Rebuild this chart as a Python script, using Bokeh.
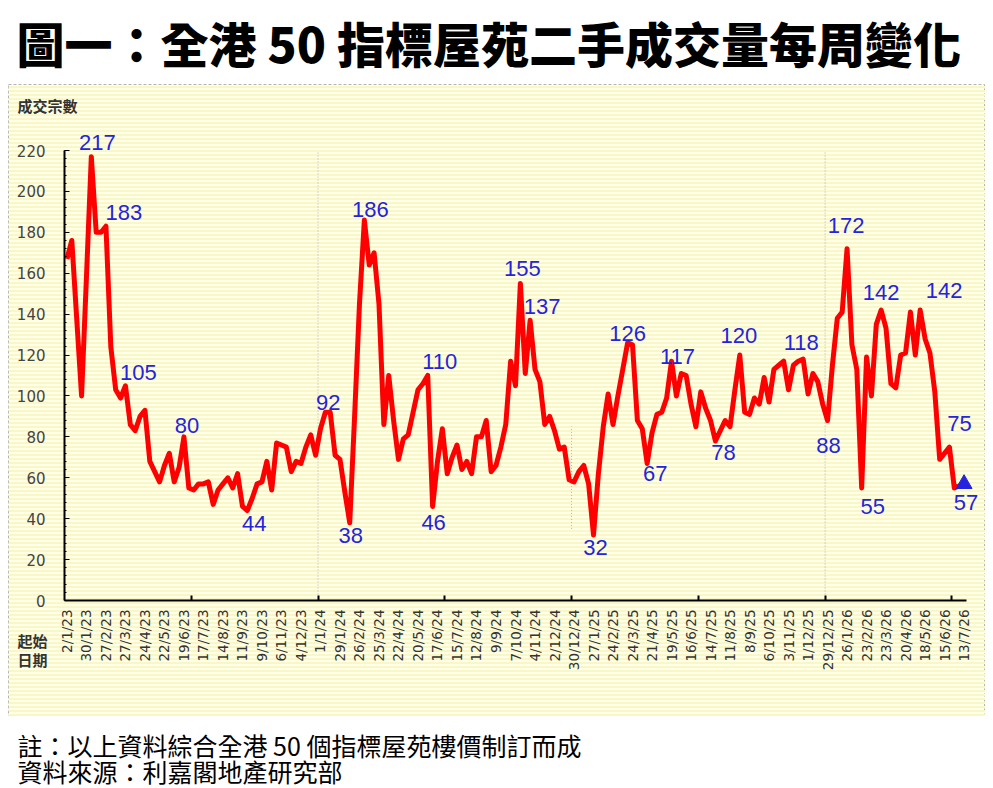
import math
from bokeh.plotting import figure
from bokeh.models import (Range1d, FixedTicker, ColumnDataSource, LabelSet, Label, Spacer,
                          BoxAnnotation)
from bokeh.layouts import column, row
from bokeh.embed import file_html
from bokeh.resources import INLINE
from bokeh.core.properties import value

# ---------------- data ----------------
title_text = "圖一：全港 50 指標屋苑二手成交量每周變化"
y_axis_title = "成交宗數"
x_axis_title = ["起始", "日期"]
notes = ["註：以上資料綜合全港 50 個指標屋苑樓價制訂而成", "資料來源：利嘉閣地產研究部"]

tick_labels = [
    "2/1/23", "30/1/23", "27/2/23", "27/3/23", "24/4/23", "22/5/23", "19/6/23",
    "17/7/23", "14/8/23", "11/9/23", "9/10/23", "6/11/23", "4/12/23", "1/1/24",
    "29/1/24", "26/2/24", "25/3/24", "22/4/24", "20/5/24", "17/6/24", "15/7/24",
    "12/8/24", "9/9/24", "7/10/24", "4/11/24", "2/12/24", "30/12/24", "27/1/25",
    "24/2/25", "24/3/25", "21/4/25", "19/5/25", "16/6/25", "14/7/25", "11/8/25",
    "8/9/25", "6/10/25", "3/11/25", "1/12/25", "29/12/25", "26/1/26", "23/2/26",
    "23/3/26", "20/4/26", "18/5/26", "15/6/26", "13/7/26",
]

weekly_volume = [
    167, 176, 138, 100, 158, 217, 180, 180, 183, 124,
    103, 99, 105, 86, 83, 90, 93, 68, 63, 58,
    66, 72, 58, 65, 80, 55, 54, 57, 57, 58,
    47, 54, 57, 60, 55, 62, 46, 44, 50, 57,
    58, 68, 54, 77, 76, 75, 63, 68, 67, 75,
    81, 71, 84, 92, 92, 71, 69, 53, 38, 90,
    145, 186, 164, 170, 145, 86, 110, 88, 69, 79,
    81, 92, 103, 106, 110, 46, 68, 84, 62, 70,
    76, 64, 68, 62, 80, 80, 88, 63, 66, 75,
    86, 117, 105, 155, 111, 137, 113, 107, 86, 90,
    83, 74, 75, 59, 58, 63, 66, 57, 32, 62,
    85, 101, 86, 100, 113, 126, 125, 88, 84, 67,
    82, 91, 92, 99, 117, 100, 111, 110, 96, 85,
    102, 94, 88, 78, 83, 88, 85, 103, 120, 92,
    91, 99, 96, 109, 97, 113, 115, 117, 103, 115,
    117, 118, 101, 111, 107, 96, 88, 115, 138, 141,
    172, 125, 113, 55, 119, 100, 135, 142, 133, 106,
    104, 120, 121, 141, 120, 142, 128, 121, 102, 69,
    72, 75, 55, 56, 57,
]

# weeks whose value is annotated on the chart
labelled_weeks = [5, 8, 12, 24, 37, 53, 58, 61, 74, 75, 93, 95, 108, 115, 119,
                  124, 133, 138, 151, 156, 160, 163, 167, 175, 181, 184]
# first week of each new year (vertical separators)
year_start_weeks = [52, 104, 156]

# ---------------- layout / style (not data) ----------------
label_dx = [6, 18, 13, 3, 7, 3, 1, 6, 12, 1, 2, 12, 2, 0, 8,
            6, 8, -1, -2, 1, -1, 11, 0, 24, 10, 2]
label_dy = [14, 14, 13, 11, -13, 10, -13, 11, 14, -16, 15, 14, -12, 9, -10,
            5, -12, 20, 17, -25, 23, -18, 18, 20, 24, -19]

PANEL = "#FFFFEC"
STRIPE = "#F9F7C4"
RED = "#FF0000"
BLUE = "#2424DC"
CJK = "Noto Sans CJK TC"
CJK_HEAVY = "'Noto Sans CJK TC Black', 'Noto Sans CJK TC'"

n = len(weekly_volume)
weeks = list(range(n))
Y_MAX = 220

# panel geometry (pixels): plot area margins inside the 977x632 panel
PW, PH = 977, 632
ML, MR, MT, MB = 56, 19, 66, 116
px_x = (PW - ML - MR) / n            # pixels per week
px_y = (PH - MT - MB) / Y_MAX        # pixels per unit
x_lo = -0.5 - ML / px_x
x_hi = n - 0.5 + MR / px_x
y_lo = -MB / px_y
y_hi = Y_MAX + MT / px_y


def xpx(px):  # panel pixel -> data x
    return x_lo + px / px_x


def ypx(py):  # panel pixel from top -> data y
    return y_hi - py / px_y


# ---------------- title figure ----------------
tf = figure(width=993, height=84, x_range=Range1d(0, 993), y_range=Range1d(0, 84),
            output_backend="svg", toolbar_location=None, min_border=0)
tf.axis.visible = False
tf.grid.visible = False
tf.outline_line_color = None
tf.background_fill_color = "white"
tf.border_fill_color = "white"
tf.text(x=[16], y=[43], text=[title_text], text_font=value(CJK_HEAVY), text_font_style="bold",
        text_font_size="48px", text_baseline="middle", text_align="left", text_color="black")

# ---------------- chart figure (frame = whole panel) ----------------
p = figure(width=PW, height=PH, x_range=Range1d(x_lo, x_hi), y_range=Range1d(y_lo, y_hi),
           output_backend="svg", toolbar_location=None, min_border=0)
p.background_fill_color = PANEL
p.border_fill_color = PANEL
p.outline_line_color = "#b4b4b4"
p.outline_line_dash = "3 2"
p.outline_line_width = 1
p.grid.visible = False

# horizontal stripes of the panel background
p.add_layout(BoxAnnotation(level="underlay", fill_alpha=0, line_alpha=0,
                           hatch_pattern="horizontal_line", hatch_color=STRIPE,
                           hatch_scale=4, hatch_weight=2))

# year separators
yb = [w - 0.5 for w in year_start_weeks]
p.segment(x0=[yb[0], yb[2]], y0=[0, 0], x1=[yb[0], yb[2]], y1=[Y_MAX, Y_MAX],
          line_color="#b0b0b0", line_width=1, line_dash="1 2")
p.segment(x0=[yb[1]], y0=[35], x1=[yb[1]], y1=[85],
          line_color="#b0b0b0", line_width=1, line_dash="1 2")

src = ColumnDataSource(dict(x=weeks, y=weekly_volume))
p.line("x", "y", source=src, line_color=RED, line_width=5, line_join="round")
p.scatter(x=[weeks[-1]], y=[weekly_volume[-1]], marker="triangle", size=16,
          fill_color=BLUE, line_color=BLUE)

lab = ColumnDataSource(dict(
    x=labelled_weeks,
    y=[weekly_volume[i] for i in labelled_weeks],
    t=[str(weekly_volume[i]) for i in labelled_weeks],
    dx=label_dx, dy=label_dy,
))
p.add_layout(LabelSet(x="x", y="y", text="t", source=lab, x_offset="dx", y_offset="dy",
                      text_font=value("Liberation Sans"), text_font_size="22px",
                      text_color=BLUE, text_align="center", text_baseline="middle"))

# x axis, drawn at y = 0 inside the panel
xa = p.xaxis[0]
xa.fixed_location = 0
xa.bounds = (-0.5, n - 0.5)
xa.ticker = FixedTicker(ticks=list(range(0, n, 4)),
                        minor_ticks=[26 * k - 0.5 for k in range(1, 8)])
xa.major_label_overrides = {i: tick_labels[i // 4] for i in range(0, n, 4)}
xa.major_label_orientation = math.pi / 2
xa.major_tick_line_color = None
xa.major_tick_in = 0
xa.major_tick_out = 0
xa.minor_tick_in = 5
xa.minor_tick_out = 0
xa.minor_tick_line_color = "black"
xa.minor_tick_line_width = 2
xa.axis_line_width = 2
xa.axis_line_color = "black"
xa.major_label_standoff = 9
xa.major_label_text_font = "DejaVu Sans"
xa.major_label_text_font_size = "13.5px"
xa.major_label_text_color = "#333333"

# y axis, drawn at x = -0.5 inside the panel
ya = p.yaxis[0]
ya.fixed_location = -0.5
ya.bounds = (0, Y_MAX)
ya.ticker = FixedTicker(ticks=list(range(0, Y_MAX + 1, 20)),
                        minor_ticks=list(range(0, Y_MAX + 1, 4)))
ya.major_tick_in = 5
ya.major_tick_out = 0
ya.minor_tick_in = 2
ya.minor_tick_out = 0
ya.major_tick_line_color = "black"
ya.minor_tick_line_color = "black"
ya.axis_line_width = 2
ya.axis_line_color = "black"
ya.major_label_standoff = 19
ya.major_label_text_font = "DejaVu Sans"
ya.major_label_text_font_size = "15px"
ya.major_label_text_color = "#444444"

# axis titles in the panel margins
p.add_layout(Label(x=xpx(9), y=ypx(21), text=y_axis_title, text_font=CJK, text_font_style="bold",
                   text_font_size="15px", text_color="#333333", text_baseline="middle",
                   text_align="left"))
p.add_layout(Label(x=xpx(9), y=ypx(556), text=x_axis_title[0], text_font=CJK, text_font_style="bold",
                   text_font_size="15px", text_color="#333333", text_baseline="middle",
                   text_align="left"))
p.add_layout(Label(x=xpx(9), y=ypx(575), text=x_axis_title[1], text_font=CJK, text_font_style="bold",
                   text_font_size="15px", text_color="#333333", text_baseline="middle",
                   text_align="left"))

# ---------------- footer figure ----------------
ff = figure(width=993, height=72, x_range=Range1d(0, 993), y_range=Range1d(0, 72),
            output_backend="svg", toolbar_location=None, min_border=0)
ff.axis.visible = False
ff.grid.visible = False
ff.outline_line_color = None
ff.background_fill_color = "white"
ff.border_fill_color = "white"
ff.text(x=[17, 17], y=[44, 18], text=notes, text_font=value(CJK), text_font_size="25px",
        text_baseline="middle", text_align="left", text_color="black")

layout = column(
    tf,
    row(Spacer(width=8, height=PH), p, Spacer(width=8, height=PH)),
    ff,
)

open("out.html", "w").write(file_html(layout, INLINE))
